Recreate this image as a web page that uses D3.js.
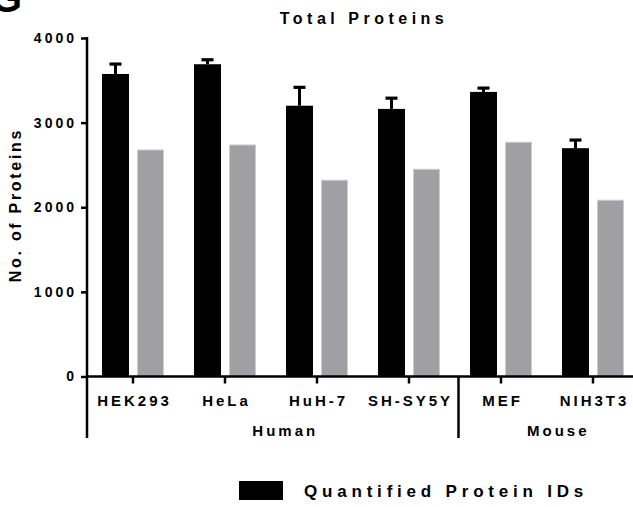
<!DOCTYPE html>
<html>
<head>
<meta charset="utf-8">
<script src="https://cdn.jsdelivr.net/npm/d3@7"></script>
<style>
  html, body { margin: 0; padding: 0; background: #fff; }
  svg { display: block; }
  text { font-family: "Liberation Sans", Arial, Helvetica, sans-serif; font-weight: bold; fill: #000; }
</style>
</head>
<body>
<svg id="chart" width="633" height="507"></svg>
<script>
// Cell lines and their species groups
const cells = ["HEK293", "HeLa", "HuH-7", "SH-SY5Y", "MEF", "NIH3T3"];
const species = [
  { name: "Human", members: ["HEK293", "HeLa", "HuH-7", "SH-SY5Y"] },
  { name: "Mouse", members: ["MEF", "NIH3T3"] }
];
const seriesNames = ["Quantified Protein IDs", "Total Protein IDs"];
// Quantified protein IDs (mean and SD), total protein IDs
const quantified = [3575, 3690, 3200, 3162, 3363, 2698];
const quantifiedSD = [117, 53, 217, 127, 45, 96];
const total = [2677, 2736, 2319, 2449, 2768, 2083];
const yTicks = [0, 1000, 2000, 3000, 4000];

const svg = d3.select("#chart");
const plot = { left: 87, right: 639, bottom: 376.5, top: 38, groupBottom: 438, edge: 633 };

const x = d3.scaleBand().domain(cells).range([plot.left, plot.right])
  .paddingInner(30 / 92).paddingOuter(15 / 92);
const xSub = d3.scaleBand().domain(seriesNames).range([0, x.bandwidth()])
  .paddingInner(8 / 35);
const y = d3.scaleLinear().domain([0, 4000]).range([plot.bottom, plot.top]);
const colors = d3.scaleOrdinal().domain(seriesNames).range(["#000000", "#a09fa4"]);

// Bars
const rows = cells.map((c, i) => ({ cell: c, q: quantified[i], sd: quantifiedSD[i], t: total[i] }));
const g = svg.append("g");
g.selectAll("rect.q").data(rows).join("rect")
  .attr("x", d => x(d.cell) + xSub(seriesNames[0]))
  .attr("y", d => y(d.q))
  .attr("width", xSub.bandwidth())
  .attr("height", d => y(0) - y(d.q))
  .attr("fill", colors(seriesNames[0]));
g.selectAll("rect.t").data(rows).join("rect")
  .attr("x", d => x(d.cell) + xSub(seriesNames[1]) + 0.5)
  .attr("y", d => y(d.t))
  .attr("width", xSub.bandwidth() - 1)
  .attr("height", d => y(0) - y(d.t))
  .attr("fill", colors(seriesNames[1]))
  .attr("stroke", "#cdcdcf").attr("stroke-width", 1);

// Upper error bars on the quantified series
const cx = d => x(d.cell) + xSub(seriesNames[0]) + xSub.bandwidth() / 2;
g.selectAll("line.err").data(rows).join("line")
  .attr("x1", cx).attr("x2", cx)
  .attr("y1", d => y(d.q)).attr("y2", d => y(d.q + d.sd))
  .attr("stroke", "#000").attr("stroke-width", 3);
g.selectAll("line.cap").data(rows).join("line")
  .attr("x1", d => cx(d) - 6).attr("x2", d => cx(d) + 6)
  .attr("y1", d => y(d.q + d.sd)).attr("y2", d => y(d.q + d.sd))
  .attr("stroke", "#000").attr("stroke-width", 3.2);

// Y axis
const yAxis = svg.append("g").attr("transform", `translate(${plot.left},0)`)
  .call(d3.axisLeft(y).tickValues(yTicks).tickSize(6).tickPadding(7).tickFormat(d3.format("d")));
yAxis.select(".domain").remove();
yAxis.selectAll(".tick line").attr("stroke", "#000").attr("stroke-width", 2.5);
yAxis.selectAll(".tick text").attr("font-size", 14).attr("letter-spacing", 3)
  .attr("dx", 3).attr("font-family", null);
svg.append("line").attr("x1", plot.left).attr("x2", plot.left)
  .attr("y1", plot.top - 1).attr("y2", plot.groupBottom)
  .attr("stroke", "#000").attr("stroke-width", 2.5);

// X axis
const xAxis = svg.append("g").attr("transform", `translate(0,${plot.bottom})`)
  .call(d3.axisBottom(x).tickSize(7).tickPadding(12));
xAxis.select(".domain").remove();
xAxis.selectAll(".tick line").attr("stroke", "#000").attr("stroke-width", 2.5);
xAxis.selectAll(".tick text").attr("font-size", 15).attr("letter-spacing", 3)
  .attr("dx", 1.5).attr("font-family", null);
svg.append("line").attr("x1", plot.left - 1).attr("x2", plot.edge)
  .attr("y1", plot.bottom).attr("y2", plot.bottom)
  .attr("stroke", "#000").attr("stroke-width", 2.5);

// Species separator and labels
const sepX = x(species[1].members[0]) - (x.step() - x.bandwidth()) / 2 + 3.5;
svg.append("line").attr("x1", sepX).attr("x2", sepX)
  .attr("y1", plot.bottom).attr("y2", plot.groupBottom)
  .attr("stroke", "#000").attr("stroke-width", 2.5);
const spans = [[plot.left, sepX], [sepX, plot.edge]];
species.forEach((s, i) => {
  svg.append("text")
    .attr("x", (spans[i][0] + spans[i][1]) / 2 + 12.5)
    .attr("y", 436)
    .attr("text-anchor", "middle")
    .attr("font-size", 15).attr("letter-spacing", 3)
    .text(s.name);
});

// Title
svg.append("text").attr("x", 364).attr("y", 24).attr("text-anchor", "middle")
  .attr("font-size", 16).attr("letter-spacing", 4.5).text("Total Proteins");

// Y axis title
svg.append("text")
  .attr("transform", `translate(21,205) rotate(-90)`)
  .attr("text-anchor", "middle")
  .attr("font-size", 16).attr("letter-spacing", 2.7)
  .text("No. of Proteins");

// Legend
svg.append("rect").attr("x", 239).attr("y", 481).attr("width", 44).attr("height", 19)
  .attr("fill", colors(seriesNames[0]));
svg.append("text").attr("x", 304).attr("y", 497)
  .attr("font-size", 17).attr("letter-spacing", 4.8)
  .text(seriesNames[0]);

// Panel letter
svg.append("text").attr("x", -9).attr("y", 12)
  .attr("font-size", 40).text("G");
</script>
</body>
</html>
